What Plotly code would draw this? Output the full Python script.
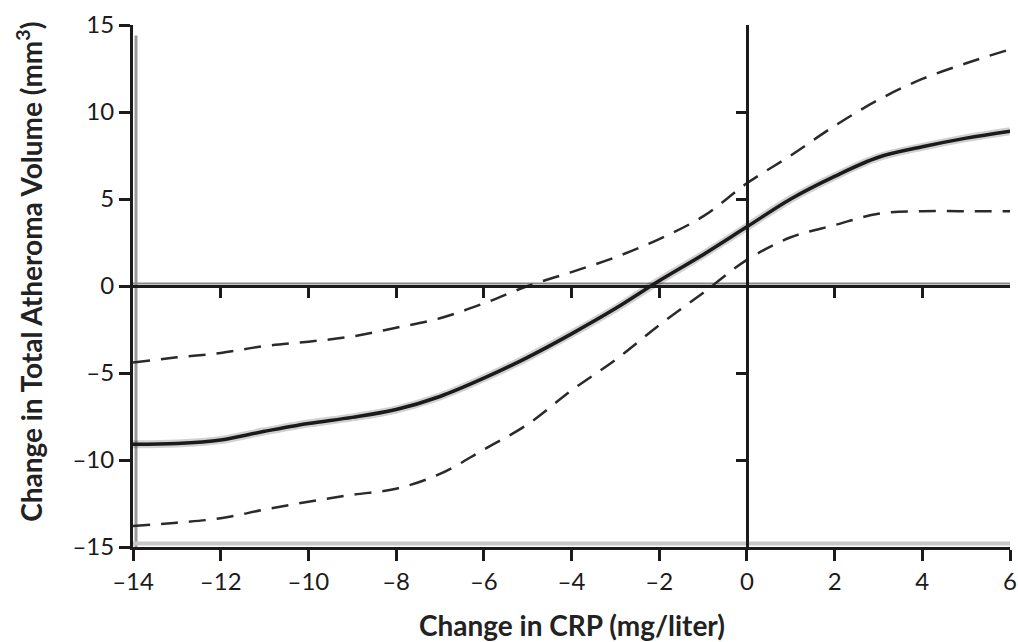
import plotly.graph_objects as go

# Data
crp_change = [-14, -13, -12, -11, -10, -9, -8, -7, -6, -5, -4, -3, -2, -1, 0, 1, 2, 3, 4, 5, 6]
estimate = [-9.1, -9.05, -8.85, -8.35, -7.9, -7.55, -7.1, -6.35, -5.3, -4.1, -2.75, -1.3, 0.3, 1.8,
            3.4, 5.0, 6.3, 7.4, 8.0, 8.5, 8.9]
upper_ci = [-4.4, -4.1, -3.85, -3.45, -3.2, -2.9, -2.4, -1.85, -1.0, 0.0, 0.8, 1.65, 2.7, 4.0,
            5.9, 7.5, 9.2, 10.7, 11.9, 12.8, 13.6]
lower_ci = [-13.8, -13.6, -13.35, -12.85, -12.4, -12.0, -11.65, -10.8, -9.4, -7.95, -6.0, -4.25,
            -2.25, -0.4, 1.5, 2.8, 3.5, 4.15, 4.3, 4.3, 4.3]

x_ticks = [-14, -12, -10, -8, -6, -4, -2, 0, 2, 4, 6]
x_ticktext = ["\u201314", "\u201312", "\u201310", "\u20138", "\u20136", "\u20134", "\u20132",
              "0", "2", "4", "6"]
y_ticks = [-15, -10, -5, 0, 5, 10, 15]
y_ticktext = ["\u201315", "\u201310", "\u20135", "0", "5", "10", "15"]
inner_x_ticks = [-12, -10, -8, -6, -4, -2, 2, 4]
inner_y_ticks = [-10, -5, 5, 10]

x_title = "Change in CRP (mg/liter)"
y_title = "Change in Total Atheroma Volume (mm<sup>3</sup>)"

INK = "#1c1a1b"
FONT = "Lato"

fig = go.Figure()

# soft halo under the main curve
fig.add_trace(go.Scatter(x=crp_change, y=estimate, mode="lines",
                         line=dict(color="rgba(0,0,0,0.18)", width=8, shape="spline"),
                         hoverinfo="skip", showlegend=False))
for ci in (upper_ci, lower_ci):
    fig.add_trace(go.Scatter(x=crp_change, y=ci, mode="lines",
                             line=dict(color="#2a2a2a", width=2.5, dash="17px,11px", shape="spline"),
                             showlegend=False))
fig.add_trace(go.Scatter(x=crp_change, y=estimate, mode="lines",
                         line=dict(color=INK, width=3.5, shape="spline"),
                         showlegend=False))
# helper trace so the inner (zero) axes get a subplot
fig.add_trace(go.Scatter(x=crp_change, y=estimate, xaxis="x2", yaxis="y2", mode="lines",
                         line=dict(width=0), opacity=0, hoverinfo="skip", showlegend=False))

tickfont = dict(family=FONT, size=24, color=INK)

fig.update_layout(
    width=1018, height=642,
    margin=dict(l=133, r=8, t=25, b=95),
    paper_bgcolor="white", plot_bgcolor="white",
    showlegend=False,
    xaxis=dict(range=[-14, 6], tickvals=x_ticks, ticktext=x_ticktext, tickfont=tickfont,
               showline=True, linecolor=INK, linewidth=3, ticks="outside", ticklen=11,
               tickwidth=3, tickcolor=INK, showgrid=False, zeroline=False, ticklabelstandoff=0,
               automargin=False),
    yaxis=dict(range=[-15, 15], tickvals=y_ticks, ticktext=y_ticktext, tickfont=tickfont,
               showline=True, linecolor=INK, linewidth=3, ticks="outside", ticklen=11,
               tickwidth=3, tickcolor=INK, showgrid=False, zeroline=False, automargin=False),
    xaxis2=dict(range=[-14, 6], overlaying="x", anchor="free", position=0.5, side="bottom",
                tickvals=inner_x_ticks, showticklabels=False, showline=True, linecolor=INK,
                linewidth=3, ticks="outside", ticklen=10, tickwidth=3, tickcolor=INK,
                showgrid=False, zeroline=False, automargin=False),
    yaxis2=dict(range=[-15, 15], overlaying="y", anchor="free", position=0.7, side="left",
                tickvals=inner_y_ticks, showticklabels=False, showline=True, linecolor=INK,
                linewidth=3, ticks="outside", ticklen=10, tickwidth=3, tickcolor=INK,
                showgrid=False, zeroline=False, automargin=False),
)

# grey "print shadow" lines beside the axes
fig.add_shape(type="line", xref="x", yref="y", xsizemode="pixel", xanchor=-14, x0=3, x1=3,
              y0=-15, y1=14.4, line=dict(color="#9a9a9a", width=3), layer="below")
fig.add_shape(type="line", xref="x", yref="y", ysizemode="pixel", yanchor=-15, y0=3.5, y1=3.5,
              x0=-14, x1=6, line=dict(color="#c8c8c8", width=4), layer="below")
fig.add_shape(type="line", xref="x", yref="y", ysizemode="pixel", yanchor=0, y0=2.5, y1=2.5,
              x0=-14, x1=6, line=dict(color="#8a8a8a", width=2), layer="below")

fig.add_annotation(text=x_title, xref="paper", yref="paper", x=0.5, y=-0.15,
                   xanchor="center", yanchor="middle", showarrow=False,
                   font=dict(family=FONT, size=28, color="#222", weight="bold"))
fig.add_annotation(text=y_title, xref="paper", yref="paper", x=-0.1175, y=0.527,
                   xanchor="center", yanchor="middle", showarrow=False, textangle=-90,
                   font=dict(family=FONT, size=28, color="#222", weight="bold"))

fig.write_html("out.html")
